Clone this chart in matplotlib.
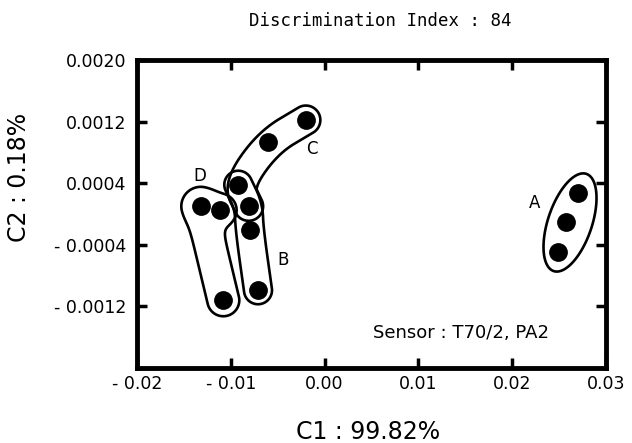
import numpy as np
import matplotlib
matplotlib.use("Agg")
import matplotlib.pyplot as plt

# PCA scores (C1, C2)
a_x = [0.0270, 0.0257, 0.0249]
a_y = [0.00027, -0.00010, -0.00049]
b_x = [-0.0092, -0.0081, -0.0080, -0.0071]
b_y = [0.00038, 0.00010, -0.00021, -0.00099]
c_x = [-0.0020, -0.0060]
c_y = [0.00122, 0.00093]
d_x = [-0.0132, -0.0111, -0.0108]
d_y = [0.00010, 0.00005, -0.00112]

x_ticks = [-0.02, -0.01, 0.00, 0.01, 0.02, 0.03]
x_labels = ["- 0.02", "- 0.01", "0.00", "0.01", "0.02", "0.03"]
y_ticks = [0.0020, 0.0012, 0.0004, -0.0004, -0.0012]
y_labels = ["0.0020", "0.0012", "0.0004", "- 0.0004", "- 0.0012"]

fig = plt.figure(figsize=(6.32, 4.43), dpi=100)
ax = fig.add_axes([137 / 632, 1 - 368 / 443, (606 - 137) / 632, (368 - 60) / 443])
ax.set_xlim(-0.02, 0.03)
ax.set_ylim(-0.002, 0.002)

# grid in pixel space for drawing the hand-drawn-like group outlines
gx = np.linspace(-0.02, 0.03, 900)
gy = np.linspace(-0.002, 0.002, 600)
GX, GY = np.meshgrid(gx, gy)
pix = ax.transData.transform(np.column_stack([GX.ravel(), GY.ravel()]))
PX = pix[:, 0].reshape(GX.shape)
PY = pix[:, 1].reshape(GX.shape)


def to_px(xs, ys):
    return ax.transData.transform(np.column_stack([xs, ys]))


def chaikin(path, n=3):
    for _ in range(n):
        new = [path[0]]
        for p, q in zip(path[:-1], path[1:]):
            new.append(0.75 * p + 0.25 * q)
            new.append(0.25 * p + 0.75 * q)
        new.append(path[-1])
        path = np.array(new)
    return path


def dist_polyline(path, k=None):
    ds = []
    for p, q in zip(path[:-1], path[1:]):
        v = q - p
        t = np.clip(((PX - p[0]) * v[0] + (PY - p[1]) * v[1]) / (v @ v), 0, 1)
        ds.append(np.hypot(PX - (p[0] + t * v[0]), PY - (p[1] + t * v[1])))
    ds = np.array(ds)
    if k is None:
        return ds.min(axis=0)
    # soft minimum -> rounded inner corners
    m = ds.min(axis=0)
    return m - k * np.log(np.exp(-(ds - m) / k).sum(axis=0))


outline = dict(colors="black", linewidths=1.9, zorder=2)

# A: ellipse around the three points
pa = to_px(a_x, a_y)
mid = (pa[0] + pa[-1]) / 2 + np.array([2, 0])
half = (pa[0] - pa[-1]) / 2
f1, f2 = mid + 1.5 * half, mid - 1.5 * half
c = 1.5 * np.hypot(*half)
field_a = np.hypot(PX - f1[0], PY - f1[1]) + np.hypot(PX - f2[0], PY - f2[1])
ax.contour(GX, GY, field_a, levels=[2 * np.hypot(c, 22)], **outline)

# B
pb = to_px(b_x, b_y)
ax.contour(GX, GY, dist_polyline(chaikin(pb)), levels=[14], **outline)

# C (the band runs down to the top of group B)
pc = np.vstack([to_px(c_x, c_y), pb[:2]])
ax.contour(GX, GY, dist_polyline(chaikin(pc, 4)), levels=[14.5], **outline)

# D
pd_ = to_px(d_x, d_y)[[1, 0, 2]]
ax.contour(GX, GY, dist_polyline(pd_, k=5), levels=[16], **outline)

for xs, ys in [(a_x, a_y), (b_x, b_y), (c_x, c_y), (d_x, d_y)]:
    ax.plot(xs, ys, "o", color="black", markersize=12.5, zorder=3)

lab = dict(textcoords="offset points", fontsize=12, ha="center", va="center")
ax.annotate("A", (a_x[0], a_y[0]), xytext=(-31, -7), **lab)
ax.annotate("B", (b_x[3], b_y[3]), xytext=(18, 22), **lab)
ax.annotate("C", (c_x[0], c_y[0]), xytext=(4, -21), **lab)
ax.annotate("D", (d_x[0], d_y[0]), xytext=(-1, 22), **lab)

ax.text(0.69, 0.115, "Sensor : T70/2, PA2", transform=ax.transAxes,
        fontsize=13, ha="center", va="center")

ax.set_xticks(x_ticks)
ax.set_xticklabels(x_labels)
ax.set_yticks(y_ticks)
ax.set_yticklabels(y_labels)
ax.tick_params(direction="in", length=7, width=2.5, top=True, right=True,
               labelsize=12.5, pad=5)
ax.tick_params(axis="y", pad=8)
for s in ax.spines.values():
    s.set_linewidth(3.5)

ax.set_xlabel("C1 : 99.82%", fontsize=17)
ax.set_ylabel("C2 : 0.18%", fontsize=17)
ax.xaxis.set_label_coords(0.4925, -0.17)
ax.yaxis.set_label_coords(-0.225, 0.62)

fig.text(0.601, 0.952, "Discrimination Index : 84", family="DejaVu Sans Mono",
         fontsize=12.5, ha="center", va="center")

fig.savefig("out.png", dpi=100)
